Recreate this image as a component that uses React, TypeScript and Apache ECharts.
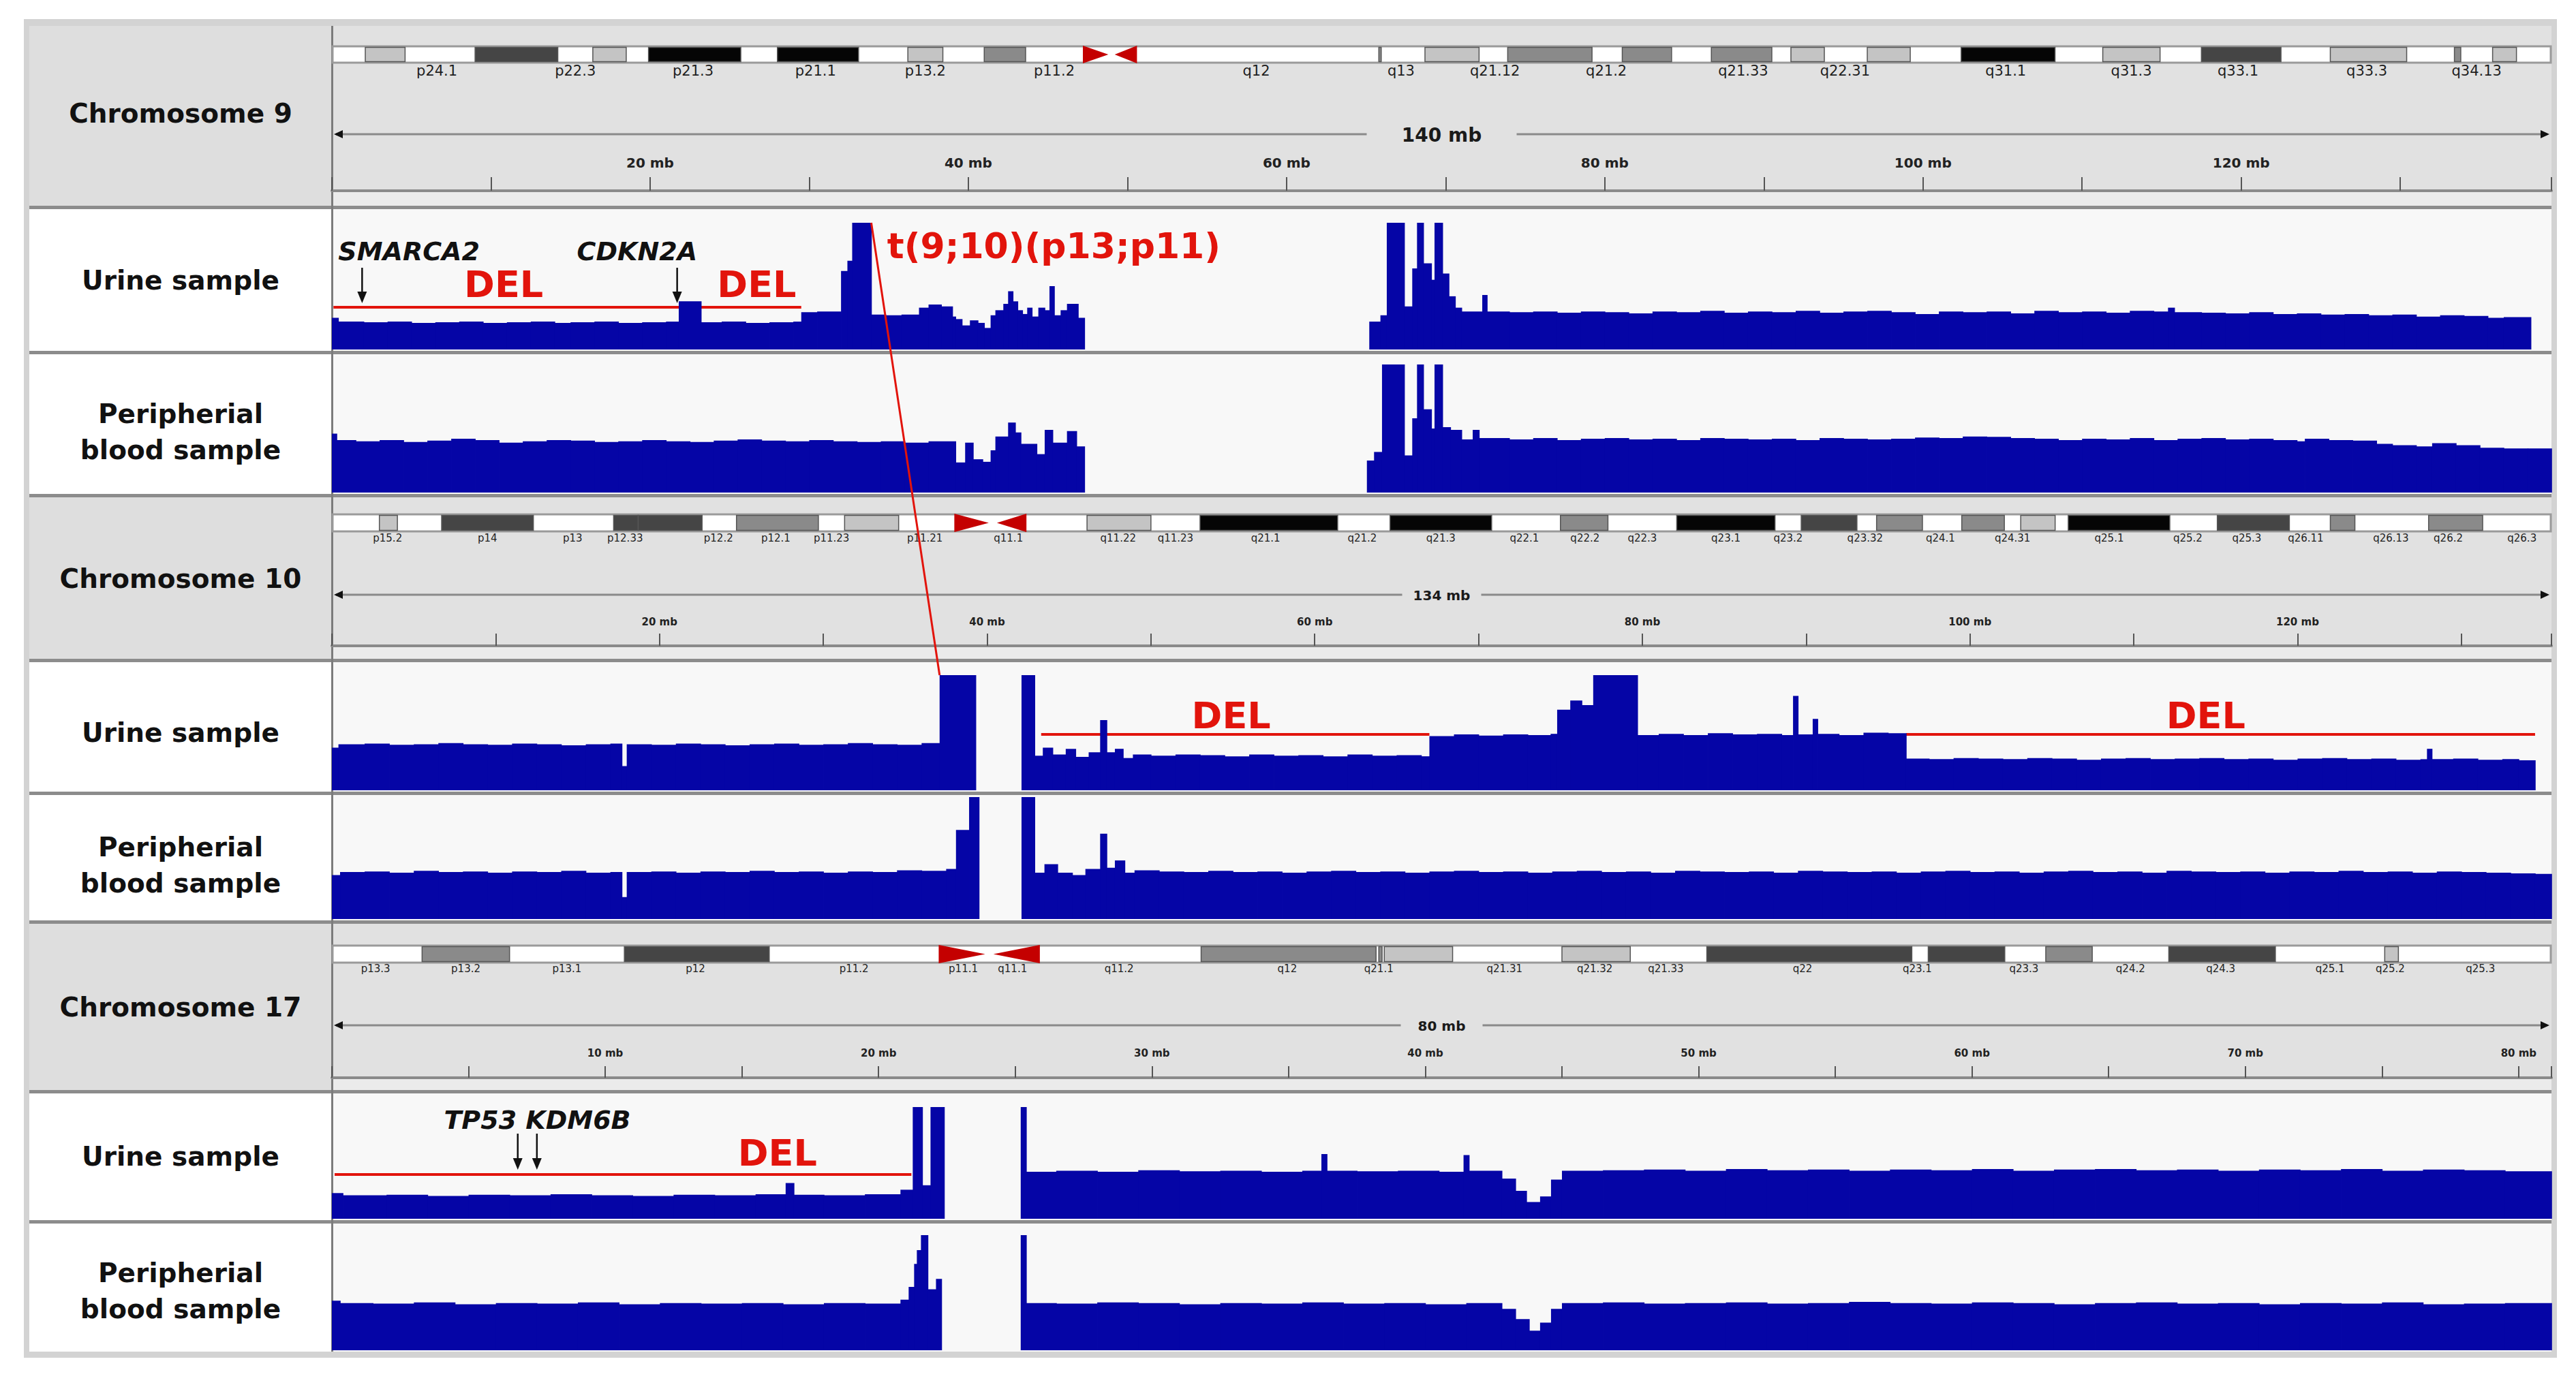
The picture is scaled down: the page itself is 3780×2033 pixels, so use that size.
import React, { useEffect, useRef } from 'react';
import * as echarts from 'echarts';

// ---------------- data ----------------
const chromNames = ['Chromosome 9', 'Chromosome 10', 'Chromosome 17'];
const chromLengthsMb = [139.5, 135.5, 81.2];
const chromSpanLabels = ['140 mb', '134 mb', '80 mb'];
const rulerTickStepMb = [10, 10, 5];
const rulerLabelStepMb = [20, 20, 10];
const trackLabels = ['Urine sample', 'Peripherial\nblood sample'];

// cytobands: [start mb, end mb, stain]
const chr9Bands: any[] = [
  [2.1, 4.6, 'gpos25'], [9.0, 14.2, 'gpos75'], [16.4, 18.5, 'gpos25'], [19.9, 25.7, 'gpos100'],
  [28.0, 33.1, 'gpos100'], [36.2, 38.4, 'gpos25'], [41.0, 43.6, 'gpos50'], [47.2, 48.8, 'acenP'],
  [49.2, 50.6, 'acenQ'], [65.8, 65.95, 'gpos50'], [68.7, 72.1, 'gpos25'], [73.9, 79.2, 'gpos50'],
  [81.1, 84.2, 'gpos50'], [86.7, 90.5, 'gpos50'], [91.7, 93.8, 'gpos25'], [96.5, 99.2, 'gpos25'],
  [102.4, 108.3, 'gpos100'], [111.3, 114.9, 'gpos25'], [117.5, 122.5, 'gpos75'], [125.6, 130.4, 'gpos25'],
  [133.4, 133.8, 'gpos50'], [135.8, 137.3, 'gpos25'],
];
const chr10Bands: any[] = [
  [2.9, 4.0, 'gpos25'], [6.7, 12.3, 'gpos75'], [17.2, 18.7, 'gpos75'], [18.7, 22.6, 'gpos75'],
  [24.7, 29.7, 'gpos50'], [31.3, 34.6, 'gpos25'], [38.0, 40.1, 'acenP'], [40.6, 42.4, 'acenQ'],
  [46.1, 50.0, 'gpos25'], [53.0, 61.4, 'gpos100'], [64.6, 70.8, 'gpos100'], [75.0, 77.9, 'gpos50'],
  [82.1, 88.1, 'gpos100'], [89.7, 93.1, 'gpos75'], [94.3, 97.1, 'gpos50'], [99.5, 102.1, 'gpos50'],
  [103.1, 105.2, 'gpos25'], [106.0, 112.2, 'gpos100'], [115.1, 119.5, 'gpos75'], [122.0, 123.5, 'gpos50'],
  [128.0, 131.3, 'gpos50'],
];
const chr17Bands: any[] = [
  [3.3, 6.5, 'gpos50'], [10.7, 16.0, 'gpos75'], [22.2, 23.9, 'acenP'], [24.2, 25.9, 'acenQ'],
  [31.8, 38.2, 'gpos50'], [38.3, 38.42, 'gpos50'], [38.5, 41.0, 'gpos25'], [45.0, 47.5, 'gpos25'],
  [50.3, 57.8, 'gpos75'], [58.4, 61.2, 'gpos75'], [62.7, 64.4, 'gpos50'], [67.2, 71.1, 'gpos75'],
  [75.1, 75.6, 'gpos25'],
];

// band names: [centre mb, name]
const chr9BandLabels: any[] = [
  [6.6, 'p24.1'], [15.3, 'p22.3'], [22.7, 'p21.3'], [30.4, 'p21.1'], [37.3, 'p13.2'], [45.4, 'p11.2'],
  [58.1, 'q12'], [67.2, 'q13'], [73.1, 'q21.12'], [80.1, 'q21.2'], [88.7, 'q21.33'], [95.1, 'q22.31'],
  [105.2, 'q31.1'], [113.1, 'q31.3'], [119.8, 'q33.1'], [127.9, 'q33.3'], [134.8, 'q34.13'],
];
const chr10BandLabels: any[] = [
  [3.4, 'p15.2'], [9.5, 'p14'], [14.7, 'p13'], [17.9, 'p12.33'], [23.6, 'p12.2'], [27.1, 'p12.1'],
  [30.5, 'p11.23'], [36.2, 'p11.21'], [41.3, 'q11.1'], [48.0, 'q11.22'], [51.5, 'q11.23'], [57.0, 'q21.1'],
  [62.9, 'q21.2'], [67.7, 'q21.3'], [72.8, 'q22.1'], [76.5, 'q22.2'], [80.0, 'q22.3'], [85.1, 'q23.1'],
  [88.9, 'q23.2'], [93.6, 'q23.32'], [98.2, 'q24.1'], [102.6, 'q24.31'], [108.5, 'q25.1'], [113.3, 'q25.2'],
  [116.9, 'q25.3'], [120.5, 'q26.11'], [125.7, 'q26.13'], [129.2, 'q26.2'], [133.7, 'q26.3'],
];
const chr17BandLabels: any[] = [
  [1.6, 'p13.3'], [4.9, 'p13.2'], [8.6, 'p13.1'], [13.3, 'p12'], [19.1, 'p11.2'], [23.1, 'p11.1'],
  [24.9, 'q11.1'], [28.8, 'q11.2'], [34.95, 'q12'], [38.3, 'q21.1'], [42.9, 'q21.31'], [46.2, 'q21.32'],
  [48.8, 'q21.33'], [53.8, 'q22'], [58.0, 'q23.1'], [61.9, 'q23.3'], [65.8, 'q24.2'], [69.1, 'q24.3'],
  [73.1, 'q25.1'], [75.3, 'q25.2'], [78.6, 'q25.3'],
];

// coverage steps: [start mb, depth] — depth holds until the next start; null = no data
const chr9Urine: any[] = [
  [0, 25], [0.4, 22], [2, 21.5], [3.5, 22], [5, 21], [6.5, 21.5], [8, 22], [9.5, 21], [11, 21.5], [12.5, 22],
  [14, 21], [15, 21.5], [16.5, 22], [18, 21], [19.5, 21.5], [21, 22], [21.8, 38], [23.2, 21.5], [24.5, 22],
  [26, 21], [27.5, 21.5], [29, 22], [29.5, 29.5], [30.5, 30], [32.0, 62], [32.4, 70], [32.7, 100], [33.9, 27.5],
  [34.8, 27], [35.8, 27.5], [36.9, 33], [37.5, 35.5], [38.3, 34], [39.0, 26], [39.2, 24], [39.6, 19], [40.1, 23],
  [40.6, 21], [41.0, 17], [41.4, 27], [41.7, 31], [42.2, 36], [42.5, 46], [42.8, 38], [43.1, 31], [43.4, 28],
  [43.7, 33], [44.0, 26], [44.4, 33], [44.8, 31], [45.1, 50], [45.4, 27], [45.8, 31], [46.2, 36], [46.9, 25],
  [47.3, null],
  [65.2, 22], [65.9, 27], [66.3, 100], [67.4, 34], [67.9, 64], [68.2, 100], [68.6, 68], [69.1, 55], [69.3, 100],
  [69.8, 60], [70.2, 42], [70.6, 33], [71.0, 30], [72.3, 43], [72.6, 30], [74, 29.5], [75.5, 30], [77, 29],
  [78.5, 30], [80, 29.5], [81.5, 28.5], [83, 30], [84.5, 29.5], [86, 30.5], [87.5, 29], [89, 30], [90.5, 29.5],
  [92, 30.5], [93.5, 29], [95, 30], [96.5, 30.5], [98, 29.5], [99.5, 28], [101, 30], [102.5, 29.5], [104, 30],
  [105.5, 28.5], [107, 30.5], [108.5, 29.5], [110, 30], [111.5, 29], [113, 30.5], [114.5, 30], [115.4, 33],
  [115.8, 29.5], [117.5, 29], [119, 28.5], [120.5, 29.5], [122, 28], [123.5, 28.5], [125, 27.5], [126.5, 28],
  [128, 27], [129.5, 27.5], [131, 26], [132.5, 27], [134, 26.5], [135.5, 25], [136.5, 25.5], [138.2, null],
];
const chr9Blood: any[] = [
  [0, 46], [0.3, 41], [1.5, 40], [3, 41], [4.5, 39.5], [6, 40.5], [7.5, 42], [9, 41], [10.5, 39], [12, 40],
  [13.5, 41], [15, 40.5], [16.5, 39.5], [18, 40], [19.5, 41], [21, 40], [22.5, 39.5], [24, 40.5], [25.5, 41.5],
  [27, 40.5], [28.5, 40], [30, 41], [31.5, 40], [33, 39.5], [34.5, 40], [36, 39], [37.5, 40], [39.2, 23.5],
  [39.8, 39], [40.3, 26], [40.9, 24], [41.4, 33], [41.7, 43.7], [42.5, 54.6], [42.95, 47], [43.3, 38], [44.3, 30],
  [44.8, 49], [45.3, 39], [46.2, 48], [46.8, 36], [47.3, null],
  [65.05, 25], [65.5, 31.7], [66.0, 100], [67.4, 29], [67.9, 58], [68.2, 100], [68.6, 65], [69.1, 50], [69.3, 100],
  [69.8, 51], [70.3, 49], [71.0, 41.5], [71.7, 49], [72.1, 42.5], [74, 41.5], [75.5, 42.5], [77, 41], [78.5, 42],
  [80, 42.5], [81.5, 41.5], [83, 42], [84.5, 41], [86, 42.5], [87.5, 42], [89, 41.5], [90.5, 42], [92, 41],
  [93.5, 42.5], [95, 42], [96.5, 41.5], [98, 42], [99.5, 43], [101, 42.5], [102.5, 43.7], [104, 43.5], [105.5, 42.5],
  [107, 42], [108.5, 41], [110, 42], [111.5, 41.5], [113, 42.5], [114.5, 41], [116, 42], [117.5, 42.5], [119, 41.5],
  [120.5, 42], [122, 41], [123.5, 40], [124, 42], [125.5, 41], [127, 40.5], [128.5, 38], [129.5, 37], [131, 36],
  [132, 38.5], [133.5, 37], [135, 35], [136.5, 34.5], [138, 34.4], [139.5, null],
];
const chr10Urine: any[] = [
  [0, 37], [0.4, 40], [2, 40.5], [3.5, 39.5], [5, 40], [6.5, 41], [8, 40], [9.5, 39.5], [11, 40.5], [12.5, 40],
  [14, 39], [15.5, 40], [17, 40.5], [17.7, 21], [18.0, 40], [19.5, 39.5], [21, 40.5], [22.5, 40], [24, 39],
  [25.5, 40], [27, 40.5], [28.5, 39.5], [30, 40], [31.5, 41], [33, 40], [34.5, 39.5], [36, 41], [37.1, 100],
  [39.3, null],
  [42.1, 100], [42.9, 30], [43.4, 37], [44.0, 31], [44.8, 36], [45.4, 29], [46.2, 33], [46.9, 61], [47.3, 33],
  [47.8, 36], [48.3, 28], [48.9, 31], [50, 30], [51.5, 31], [53, 30.5], [54.5, 29.5], [56, 31], [57.5, 30],
  [59, 30.5], [60.5, 29.5], [62, 31], [63.5, 30], [65, 30.5], [66.5, 29.5], [67.0, 47], [68.5, 48.5], [70, 47.5],
  [71.5, 48.5], [73, 48], [74.4, 49], [74.8, 70], [75.6, 78], [76.3, 74], [77.0, 100], [79.7, 48], [81, 49],
  [82.5, 48], [84, 49.5], [85.5, 48.5], [87, 49], [88.5, 48], [89.2, 82], [89.5, 48.5], [90.4, 62], [90.7, 49],
  [92, 48], [93.5, 50], [95, 49.5], [96.1, 27.5], [97.5, 27], [99, 28], [100.5, 27.5], [102, 27], [103.5, 28],
  [105, 27.5], [106.5, 26.5], [108, 27.5], [109.5, 28], [111, 27], [112.5, 27.5], [114, 28], [115.5, 27],
  [117, 27.5], [118.5, 26.5], [120, 27.5], [121.5, 28], [123, 27], [124.5, 27.5], [126, 26.5], [127.5, 27],
  [127.9, 36], [128.2, 27], [129.5, 27.5], [131, 26.5], [132.5, 27], [133.5, 26], [134.5, null],
];
const chr10Blood: any[] = [
  [0, 36], [0.5, 38.5], [2, 39], [3.5, 38], [5, 39.5], [6.5, 38.5], [8, 39], [9.5, 38], [11, 39], [12.5, 38.5],
  [14, 39.5], [15.5, 38], [17, 38.5], [17.7, 18], [18.0, 38.5], [19.5, 39], [21, 38], [22.5, 39], [24, 38.5],
  [25.5, 39.5], [27, 38.5], [28.5, 39], [30, 38], [31.5, 39], [33, 38.5], [34.5, 40], [36, 39.5], [37.5, 41],
  [38.1, 73], [38.9, 100], [39.5, null],
  [42.1, 100], [42.9, 38], [43.5, 45], [44.3, 38], [45.2, 36], [46.0, 41], [46.9, 70], [47.3, 42], [47.8, 48],
  [48.4, 38], [49, 40], [50.5, 39], [52, 38.5], [53.5, 39.5], [55, 38.5], [56.5, 39], [58, 38], [59.5, 39],
  [61, 39.5], [62.5, 38.5], [64, 39], [65.5, 38], [67, 39], [68.5, 39.5], [70, 38.5], [71.5, 39], [73, 38],
  [74.5, 39], [76, 39.5], [77.5, 38.5], [79, 39], [80.5, 38], [82, 39.5], [83.5, 39], [85, 38.5], [86.5, 39],
  [88, 38], [89.5, 39.5], [91, 39], [92.5, 38.5], [94, 39], [95.5, 38], [97, 39], [98.5, 39.5], [100, 38.5],
  [101.5, 39], [103, 38], [104.5, 39], [106, 39.5], [107.5, 38.5], [109, 39], [110.5, 38], [112, 39.5], [113.5, 39],
  [115, 38.5], [116.5, 39], [118, 38], [119.5, 39], [121, 38.5], [122.5, 39.5], [124, 38.5], [125.5, 39], [127, 38],
  [128.5, 39], [130, 38.5], [131.5, 38], [133, 37.5], [134.5, 37], [135.5, null],
];
const chr17Urine: any[] = [
  [0, 23], [0.4, 21], [2, 21.5], [3.5, 20.5], [5, 21.5], [6.5, 21], [8, 22], [9.5, 21], [11, 20.5], [12.5, 21.5],
  [14, 21], [15.5, 22], [16.6, 32], [16.9, 21.5], [18, 21], [19.5, 22], [20.8, 26], [21.25, 100], [21.6, 30],
  [21.9, 100], [22.4, null],
  [25.2, 100], [25.4, 42], [26.5, 43], [28, 42], [29.5, 43.5], [31, 42.5], [32.5, 43], [34, 42], [35.5, 43],
  [36.2, 58], [36.4, 43], [37.5, 42.5], [39, 43], [40.5, 42], [41.4, 57], [41.6, 43], [42.8, 36], [43.3, 25],
  [43.7, 15], [44.2, 20], [44.6, 35], [45.0, 43], [46.5, 43.5], [48, 44], [49.5, 43], [51, 44.5], [52.5, 43.5],
  [54, 44], [55.5, 43], [57, 44], [58.5, 43.5], [60, 44.5], [61.5, 43], [63, 44], [64.5, 44.5], [66, 43.5],
  [67.5, 44], [69, 43], [70.5, 44], [72, 43.5], [73.5, 44.5], [75, 43], [76.5, 44], [78, 43.5], [79.5, 42.5],
  [81.2, null],
];
const chr17Blood: any[] = [
  [0, 43], [0.3, 41], [1.5, 40.5], [3, 41.5], [4.5, 40], [6, 41], [7.5, 40.5], [9, 41.5], [10.5, 40], [12, 41],
  [13.5, 40.5], [15, 41], [16.5, 40], [18, 41], [19.5, 40.5], [20.8, 44], [21.1, 55], [21.3, 75], [21.4, 87],
  [21.55, 100], [21.8, 53], [22.1, 62], [22.3, null],
  [25.2, 100], [25.4, 41], [26.5, 40.5], [28, 41.5], [29.5, 41], [31, 40], [32.5, 41], [34, 40.5], [35.5, 41.5],
  [37, 40.5], [38.5, 41], [40, 40], [41.5, 41], [42.8, 36], [43.3, 27], [43.8, 17], [44.2, 24], [44.6, 36],
  [45.0, 41], [46.5, 41.5], [48, 40.5], [49.5, 41], [51, 41.5], [52.5, 40.5], [54, 41], [55.5, 42], [57, 41],
  [58.5, 40.5], [60, 41.5], [61.5, 41], [63, 40], [64.5, 41], [66, 41.5], [67.5, 40.5], [69, 41], [70.5, 40],
  [72, 41], [73.5, 40.5], [75, 41.5], [76.5, 40], [78, 40.5], [79.5, 41], [81.2, null],
];

// annotations (chromosome index, mb, depth)
const delSegments: any[] = [[0, 0.1, 29.5, 33.3], [1, 43.3, 67.0, 48.5], [1, 96.1, 134.5, 48.5], [2, 0.1, 21.2, 39.6]];
const delLabels: any[] = [[0, 10.8, 51.6], [0, 26.7, 51.6], [1, 54.9, 64.5], [1, 114.4, 64.5], [2, 16.3, 59.1]];
const geneLabels: any[] = [[0, 0.4, 77.4, 'SMARCA2'], [0, 15.4, 77.4, 'CDKN2A'], [2, 4.1, 88.4, 'TP53 KDM6B']];
const geneArrows: any[] = [[0, 1.9, 64.5, 36.6], [0, 21.7, 64.5, 36.6], [2, 6.8, 76.2, 43.9], [2, 7.5, 76.2, 43.9]];
const translocationLabel = 't(9;10)(p13;p11)';
const translocationLabelAt = [34.9, 81.7];
const translocationFrom = [33.9, 100]; // chr9 urine
const translocationTo = [37.1, 100]; // chr10 urine

// ---------------- layout / style ----------------
const PLOT_LEFT = 487;
const PLOT_RIGHT = 3744;
const LABEL_LEFT = 43;
const LABEL_CX = 265;
const FONT = '"DejaVu Sans", Verdana, sans-serif';
const COVERAGE_BLUE = '#0505a6';
const RED = '#e2140c';
const stainColors: any = { gpos25: '#c4c4c4', gpos50: '#8a8a8a', gpos75: '#454545', gpos100: '#050505' };

const rowBoxes = [
  { kind: 'header', top: 38, bottom: 302 },
  { kind: 'track', top: 307, bottom: 515 },
  { kind: 'track', top: 520, bottom: 725 },
  { kind: 'header', top: 730, bottom: 967 },
  { kind: 'track', top: 972, bottom: 1162 },
  { kind: 'track', top: 1167, bottom: 1351 },
  { kind: 'header', top: 1356, bottom: 1600 },
  { kind: 'track', top: 1605, bottom: 1791 },
  { kind: 'track', top: 1796, bottom: 1984 },
];
const headerGeom = [
  { top: 38, axisY: 280, bottom: 302, bandTop: 68, bandH: 24, bandLabelY: 104, spanY: 197, tickLen: 20, tickLabelMargin: 31, bandFont: 21, tickFont: 20, spanFont: 28, spanGapHalf: 110, titleY: 166 },
  { top: 730, axisY: 948, bottom: 967, bandTop: 755, bandH: 25, bandLabelY: 790, spanY: 873, tickLen: 18, tickLabelMargin: 28, bandFont: 15, tickFont: 15, spanFont: 20, spanGapHalf: 58, titleY: 849 },
  { top: 1356, axisY: 1582, bottom: 1600, bandTop: 1388, bandH: 25, bandLabelY: 1422, spanY: 1505, tickLen: 17, tickLabelMargin: 29, bandFont: 15, tickFont: 15, spanFont: 20, spanGapHalf: 60, titleY: 1478 },
];
const trackGeom = [
  [{ top: 327, bottom: 513, labelY: 411 }, { top: 535, bottom: 723, labelY: 634 }],
  [{ top: 991, bottom: 1160, labelY: 1075 }, { top: 1170, bottom: 1349, labelY: 1270 }],
  [{ top: 1625, bottom: 1789, labelY: 1697 }, { top: 1813, bottom: 1982, labelY: 1895 }],
];

const bandsByChrom = [chr9Bands, chr10Bands, chr17Bands];
const bandLabelsByChrom = [chr9BandLabels, chr10BandLabels, chr17BandLabels];
const coverageByChrom = [[chr9Urine, chr9Blood], [chr10Urine, chr10Blood], [chr17Urine, chr17Blood]];

function stepsToBins(steps: any[]) {
  const bins: number[][] = [];
  for (let i = 0; i < steps.length - 1; i++) {
    const v = steps[i][1];
    if (v === null) continue;
    bins.push([steps[i][0], steps[i + 1][0], v]);
  }
  return bins;
}

function buildOption(transloc: number[] | null) {
  const grid: any[] = [];
  const xAxis: any[] = [];
  const yAxis: any[] = [];
  const series: any[] = [];
  const elements: any[] = [];

  // frame & panels
  elements.push({ type: 'rect', z: 0, shape: { x: 35, y: 28, width: 3717, height: 1965 }, style: { fill: '#d3d3d3' } });
  rowBoxes.forEach((r, i) => {
    const header = r.kind === 'header';
    elements.push({ type: 'rect', z: 0, shape: { x: LABEL_LEFT, y: r.top, width: PLOT_LEFT - LABEL_LEFT, height: r.bottom - r.top }, style: { fill: header ? '#dedede' : '#ffffff' } });
    elements.push({ type: 'rect', z: 0, shape: { x: PLOT_LEFT, y: r.top, width: PLOT_RIGHT - PLOT_LEFT, height: r.bottom - r.top }, style: { fill: header ? '#e1e1e1' : '#f8f8f8' } });
    if (i < rowBoxes.length - 1) {
      elements.push({ type: 'rect', z: 1, shape: { x: LABEL_LEFT, y: r.bottom, width: PLOT_RIGHT - LABEL_LEFT, height: rowBoxes[i + 1].top - r.bottom }, style: { fill: '#8c8c8c' } });
    }
  });
  elements.push({ type: 'rect', z: 1, shape: { x: PLOT_LEFT - 1, y: 38, width: 3, height: 1946 }, style: { fill: '#7c7c7c' } });

  chromNames.forEach((name, c) => {
    const g = headerGeom[c];
    const L = chromLengthsMb[c];
    const hIdx = c * 3;
    // header strip below ruler
    elements.push({ type: 'rect', z: 1, shape: { x: PLOT_LEFT + 2, y: g.axisY + 2, width: PLOT_RIGHT - PLOT_LEFT - 2, height: g.bottom - g.axisY - 2 }, style: { fill: '#ebebeb' } });
    // title
    elements.push({ type: 'text', z: 10, style: { text: name, x: LABEL_CX, y: g.titleY, fill: '#111', fontSize: 39, fontWeight: 'bold', fontFamily: FONT, align: 'center', verticalAlign: 'middle' } });
    // span line with arrows
    const cx = (PLOT_LEFT + PLOT_RIGHT) / 2;
    const y = g.spanY;
    elements.push({ type: 'line', z: 5, shape: { x1: PLOT_LEFT + 6, y1: y, x2: cx - g.spanGapHalf, y2: y }, style: { stroke: '#8a8a8a', lineWidth: 3 } });
    elements.push({ type: 'line', z: 5, shape: { x1: cx + g.spanGapHalf, y1: y, x2: PLOT_RIGHT - 6, y2: y }, style: { stroke: '#8a8a8a', lineWidth: 3 } });
    elements.push({ type: 'polygon', z: 5, shape: { points: [[PLOT_LEFT + 3, y], [PLOT_LEFT + 16, y - 6], [PLOT_LEFT + 16, y + 6]] }, style: { fill: '#111' } });
    elements.push({ type: 'polygon', z: 5, shape: { points: [[PLOT_RIGHT - 3, y], [PLOT_RIGHT - 16, y - 6], [PLOT_RIGHT - 16, y + 6]] }, style: { fill: '#111' } });
    elements.push({ type: 'text', z: 5, style: { text: chromSpanLabels[c], x: cx, y: y + 1, fill: '#1a1a1a', fontSize: g.spanFont, fontWeight: 'bold', fontFamily: FONT, align: 'center', verticalAlign: 'middle' } });

    // header grid + ruler axis
    grid.push({ left: PLOT_LEFT, width: PLOT_RIGHT - PLOT_LEFT, top: g.top, height: g.axisY - g.top });
    xAxis.push({
      type: 'value', gridIndex: hIdx, min: 0, max: L, interval: rulerTickStepMb[c], position: 'bottom', z: 6,
      axisLine: { show: true, lineStyle: { color: '#8a8a8a', width: 4 } },
      axisTick: { show: true, inside: true, length: g.tickLen, lineStyle: { color: '#555', width: 2 } },
      axisLabel: {
        show: true, inside: true, margin: g.tickLabelMargin, verticalAlign: 'bottom',
        fontFamily: FONT, fontWeight: 'bold', fontSize: g.tickFont, color: '#222',
        formatter: (v: number) => (v > 0 && Math.abs(v % rulerLabelStepMb[c]) < 1e-6 ? v + ' mb' : ''),
      },
      splitLine: { show: false },
    });
    yAxis.push({ type: 'value', gridIndex: hIdx, min: 0, max: 1, show: false });

    // chromosome bar
    series.push({
      type: 'custom', xAxisIndex: hIdx, yAxisIndex: hIdx, z: 3, silent: true, clip: false,
      data: [[0, 0, L]],
      renderItem: (params: any, api: any) => {
        const a = api.coord([0, 0]);
        const b = api.coord([L, 0]);
        return { type: 'rect', shape: { x: a[0] + 1, y: g.bandTop, width: b[0] - a[0] - 2, height: g.bandH }, style: { fill: '#ffffff', stroke: '#9a9a9a', lineWidth: 3 } };
      },
    });
    // bands
    const bands = bandsByChrom[c];
    series.push({
      type: 'custom', xAxisIndex: hIdx, yAxisIndex: hIdx, z: 4, silent: true, clip: false,
      data: bands.map((b: any) => [b[0], 0, b[1]]),
      renderItem: (params: any, api: any) => {
        const b = bands[params.dataIndex];
        const x0 = api.coord([b[0], 0])[0];
        const x1 = api.coord([b[1], 0])[0];
        const top = g.bandTop;
        const h = g.bandH;
        const mid = top + h / 2;
        if (b[2] === 'acenP') return { type: 'polygon', shape: { points: [[x0, top - 1], [x1, mid], [x0, top + h + 1]] }, style: { fill: '#c40000' } };
        if (b[2] === 'acenQ') return { type: 'polygon', shape: { points: [[x1, top - 1], [x0, mid], [x1, top + h + 1]] }, style: { fill: '#c40000' } };
        return { type: 'rect', shape: { x: x0, y: top + 1.5, width: Math.max(x1 - x0, 2), height: h - 3 }, style: { fill: stainColors[b[2]], stroke: '#555', lineWidth: 1.5 } };
      },
    });
    // band names
    const bl = bandLabelsByChrom[c];
    series.push({
      type: 'custom', xAxisIndex: hIdx, yAxisIndex: hIdx, z: 4, silent: true, clip: false,
      data: bl.map((l: any) => [l[0], 0]),
      renderItem: (params: any, api: any) => {
        const l = bl[params.dataIndex];
        const x = api.coord([l[0], 0])[0];
        return { type: 'text', style: { text: l[1], x, y: g.bandLabelY, fill: '#1e1e1e', fontSize: g.bandFont, fontFamily: FONT, align: 'center', verticalAlign: 'middle' } };
      },
    });

    // tracks
    [0, 1].forEach((t) => {
      const tg = trackGeom[c][t];
      const idx = c * 3 + 1 + t;
      elements.push({ type: 'text', z: 10, style: { text: trackLabels[t], x: LABEL_CX, y: tg.labelY, fill: '#111', fontSize: 39, fontWeight: 'bold', fontFamily: FONT, align: 'center', verticalAlign: 'middle', lineHeight: 53 } });
      grid.push({ left: PLOT_LEFT, width: PLOT_RIGHT - PLOT_LEFT, top: tg.top, height: tg.bottom - tg.top });
      xAxis.push({ type: 'value', gridIndex: idx, min: 0, max: L, show: false });
      yAxis.push({ type: 'value', gridIndex: idx, min: 0, max: 100, show: false });
      const bins = stepsToBins(coverageByChrom[c][t]);
      series.push({
        type: 'custom', xAxisIndex: idx, yAxisIndex: idx, z: 3, silent: true, clip: false,
        encode: { x: [0, 1], y: 2 },
        data: bins,
        renderItem: (params: any, api: any) => {
          const a = api.coord([api.value(0), 0]);
          const b = api.coord([api.value(1), Math.min(api.value(2), 100)]);
          return { type: 'rect', shape: { x: a[0], y: b[1], width: b[0] - a[0] + 0.8, height: a[1] - b[1] }, style: { fill: COVERAGE_BLUE } };
        },
      });
    });

    const uIdx = c * 3 + 1;
    const dels = delSegments.filter((d) => d[0] === c);
    if (dels.length) {
      series.push({
        type: 'custom', xAxisIndex: uIdx, yAxisIndex: uIdx, z: 2, silent: true, clip: false,
        data: dels.map((d) => [d[1], d[3], d[2]]),
        renderItem: (params: any, api: any) => {
          const d = dels[params.dataIndex];
          const a = api.coord([d[1], d[3]]);
          const b = api.coord([d[2], d[3]]);
          return { type: 'line', shape: { x1: a[0], y1: a[1], x2: b[0], y2: b[1] }, style: { stroke: RED, lineWidth: 4 } };
        },
      });
    }
    const dl = delLabels.filter((d) => d[0] === c);
    if (dl.length) {
      series.push({
        type: 'custom', xAxisIndex: uIdx, yAxisIndex: uIdx, z: 6, silent: true, clip: false,
        data: dl.map((d) => [d[1], d[2]]),
        renderItem: (params: any, api: any) => {
          const d = dl[params.dataIndex];
          const p = api.coord([d[1], d[2]]);
          return { type: 'text', style: { text: 'DEL', x: p[0], y: p[1], fill: RED, fontSize: 54, fontWeight: 'bold', fontFamily: FONT, align: 'center', verticalAlign: 'middle' } };
        },
      });
    }
    const gl = geneLabels.filter((d) => d[0] === c);
    if (gl.length) {
      series.push({
        type: 'custom', xAxisIndex: uIdx, yAxisIndex: uIdx, z: 6, silent: true, clip: false,
        data: gl.map((d) => [d[1], d[2]]),
        renderItem: (params: any, api: any) => {
          const d = gl[params.dataIndex];
          const p = api.coord([d[1], d[2]]);
          return { type: 'text', style: { text: d[3], x: p[0], y: p[1], fill: '#111', fontSize: 38, fontWeight: 'bold', fontStyle: 'italic', fontFamily: FONT, align: 'left', verticalAlign: 'middle' } };
        },
      });
    }
    const ga = geneArrows.filter((d) => d[0] === c);
    if (ga.length) {
      series.push({
        type: 'custom', xAxisIndex: uIdx, yAxisIndex: uIdx, z: 6, silent: true, clip: false,
        data: ga.map((d) => [d[1], d[2]]),
        renderItem: (params: any, api: any) => {
          const d = ga[params.dataIndex];
          const top = api.coord([d[1], d[2]]);
          const bot = api.coord([d[1], d[3]]);
          return {
            type: 'group',
            children: [
              { type: 'line', shape: { x1: top[0], y1: top[1], x2: bot[0], y2: bot[1] - 12 }, style: { stroke: '#111', lineWidth: 2.5 } },
              { type: 'polygon', shape: { points: [[bot[0] - 7, bot[1] - 17], [bot[0] + 7, bot[1] - 17], [bot[0], bot[1]]] }, style: { fill: '#111' } },
            ],
          };
        },
      });
    }
  });

  // translocation label (chr9 urine grid)
  series.push({
    type: 'custom', xAxisIndex: 1, yAxisIndex: 1, z: 7, silent: true, clip: false,
    data: [translocationLabelAt],
    renderItem: (params: any, api: any) => {
      const p = api.coord(translocationLabelAt);
      return { type: 'text', style: { text: translocationLabel, x: p[0], y: p[1], fill: RED, fontSize: 52, fontWeight: 'bold', fontFamily: FONT, align: 'left', verticalAlign: 'middle' } };
    },
  });

  if (transloc) {
    elements.push({ type: 'line', z: 20, shape: { x1: transloc[0], y1: transloc[1], x2: transloc[2], y2: transloc[3] }, style: { stroke: RED, lineWidth: 3 } });
  }

  return {
    animation: false,
    backgroundColor: '#ffffff',
    grid,
    xAxis,
    yAxis,
    series,
    graphic: { elements },
  };
}

export default function App() {
  const ref = useRef<HTMLDivElement>(null);
  useEffect(() => {
    if (!ref.current) return;
    const chart = echarts.init(ref.current, null, { renderer: 'svg' });
    chart.setOption(buildOption(null));
    const a = chart.convertToPixel({ xAxisIndex: 1, yAxisIndex: 1 } as any, translocationFrom) as any;
    const b = chart.convertToPixel({ xAxisIndex: 4, yAxisIndex: 4 } as any, translocationTo) as any;
    chart.setOption(buildOption([a[0], a[1], b[0], b[1]]), true);
    return () => chart.dispose();
  }, []);
  return <div ref={ref} style={{ position: 'absolute', left: 0, top: 0, width: 3780, height: 2033 }} />;
}
